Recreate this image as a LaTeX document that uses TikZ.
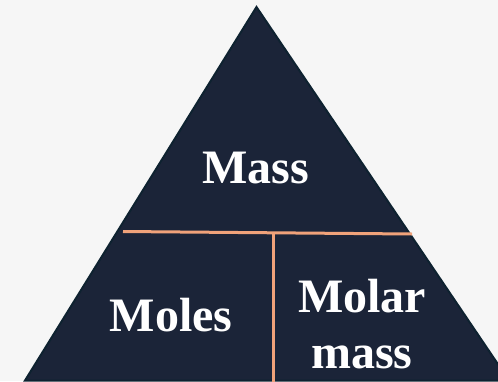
\documentclass[tikz,border=0pt]{standalone}
\usepackage{fontspec}
\setmainfont{Liberation Serif}
\definecolor{bgc}{RGB}{246,246,246}
\definecolor{tri}{RGB}{27,36,56}
\definecolor{triedge}{RGB}{14,34,48}
\definecolor{sep}{RGB}{240,162,122}
\begin{document}
\begin{tikzpicture}[x=1pt,y=-1pt,
  lbl/.style={text=white,font=\fontsize{48}{56}\selectfont\bfseries,align=center,inner sep=0pt},
  sepline/.style={draw=sep,line width=3pt}]
\useasboundingbox (0,0) rectangle (498,381);
\fill[bgc] (0,0) rectangle (498,381);
\clip (0,0) rectangle (498,381);
\coordinate (apex) at (256.5,7);
\coordinate (bl) at (25,380.5);
\coordinate (br) at (509,380.5);
\filldraw[fill=tri,draw=triedge,line width=2pt,line join=miter] (apex) -- (br) -- (bl) -- cycle;
\coordinate (hl) at (123,231.5);
\coordinate (hr) at (412,234);
\coordinate (vt) at (273,233);
\coordinate (vb) at (273,383);
\draw[sepline] (hl) -- (hr);
\draw[sepline] (vt) -- (vb);
\node[lbl,anchor=base] (mass) at (255.5,183) {Mass};
\node[lbl,anchor=base] (moles) at (171,331) {Moles};
\node[lbl,anchor=base] (molar) at (362,312) {Molar};
\node[lbl,anchor=base] (molarmass) at (362,368) {mass};
\end{tikzpicture}
\end{document}
